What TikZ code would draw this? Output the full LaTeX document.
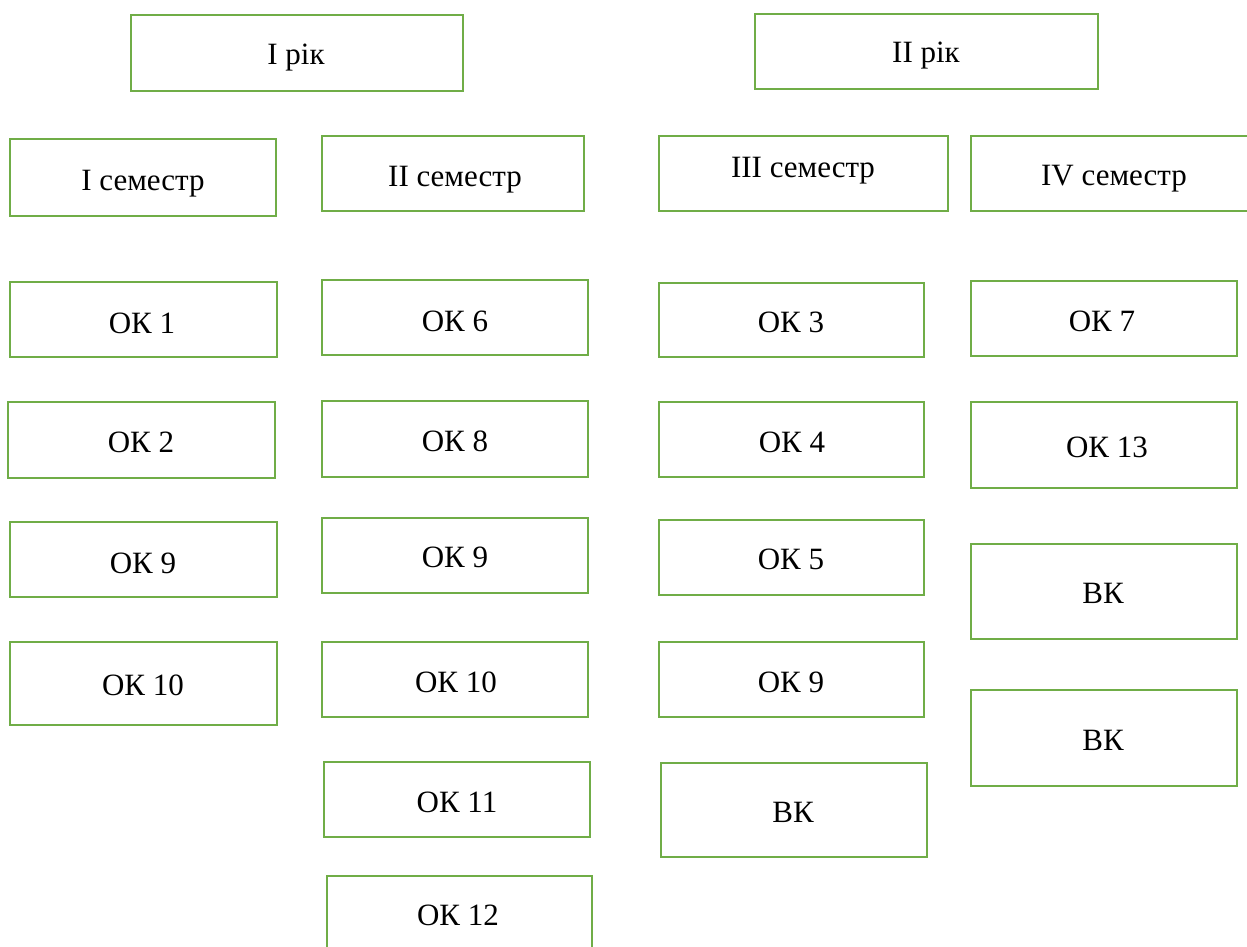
\documentclass[tikz,border=0pt]{standalone}
\usepackage{fontspec}
\setmainfont{Liberation Serif}
\definecolor{boxgreen}{HTML}{70AD47}
\tikzset{
  bx/.style={draw=boxgreen, line width=2.7pt, rectangle, inner sep=0pt, fill=none},
  lbl/.style={anchor=base, inner sep=0pt, font=\fontsize{31}{37}\selectfont, text=black}
}
% name, x1, y1, x2, y2, text x, text baseline y, text
\newcommand\mybox[8]{%
  \node[bx, minimum width={(#4-#2)*1pt}, minimum height={(#5-#3)*1pt}] (#1) at ({(#2+#4)/2},{(#3+#5)/2}) {};
  \node[lbl] (#1t) at (#6,#7) {#8};
}
\begin{document}
\begin{tikzpicture}[x=1pt,y=-1pt]
\useasboundingbox (0,0) rectangle (1247,947);
\clip (0,0) rectangle (1247,947);
\fill[white] (0,0) rectangle (1247,947);
\mybox{y1}{131}{15}{463}{91}{296}{65}{I рік}
\mybox{y2}{755}{14}{1098}{89}{926}{63}{II рік}
\mybox{s1}{10}{139}{276}{216}{143}{190}{I семестр}
\mybox{s2}{322}{136}{584}{211}{455}{186}{II семестр}
\mybox{s3}{659}{136}{948}{211}{803}{177}{III семестр}
\mybox{s4}{971}{136}{1262}{211}{1114}{185}{IV семестр}
\mybox{ca}{10}{282}{277}{357}{142}{333}{ОК 1}
\mybox{cb}{8}{402}{275}{478}{141}{452}{ОК 2}
\mybox{cc}{10}{522}{277}{597}{143}{573}{ОК 9}
\mybox{cd}{10}{642}{277}{725}{143}{695}{ОК 10}
\mybox{da}{322}{280}{588}{355}{455}{331}{ОК 6}
\mybox{db}{322}{401}{588}{477}{455}{451}{ОК 8}
\mybox{dc}{322}{518}{588}{593}{455}{567}{ОК 9}
\mybox{dd}{322}{642}{588}{717}{456}{692}{ОК 10}
\mybox{de}{324}{762}{590}{837}{457}{812}{ОК 11}
\mybox{df}{327}{876}{592}{962}{458}{925}{ОК 12}
\mybox{ea}{659}{283}{924}{357}{791}{332}{ОК 3}
\mybox{eb}{659}{402}{924}{477}{792}{452}{ОК 4}
\mybox{ec}{659}{520}{924}{595}{791}{569}{ОК 5}
\mybox{ed}{659}{642}{924}{717}{791}{692}{ОК 9}
\mybox{ee}{661}{763}{927}{857}{793}{822}{ВК}
\mybox{fa}{971}{281}{1237}{356}{1102}{331}{ОК 7}
\mybox{fb}{971}{402}{1237}{488}{1107}{457}{ОК 13}
\mybox{fc}{971}{544}{1237}{639}{1103}{603}{ВК}
\mybox{fd}{971}{690}{1237}{786}{1103}{750}{ВК}
\end{tikzpicture}
\end{document}
